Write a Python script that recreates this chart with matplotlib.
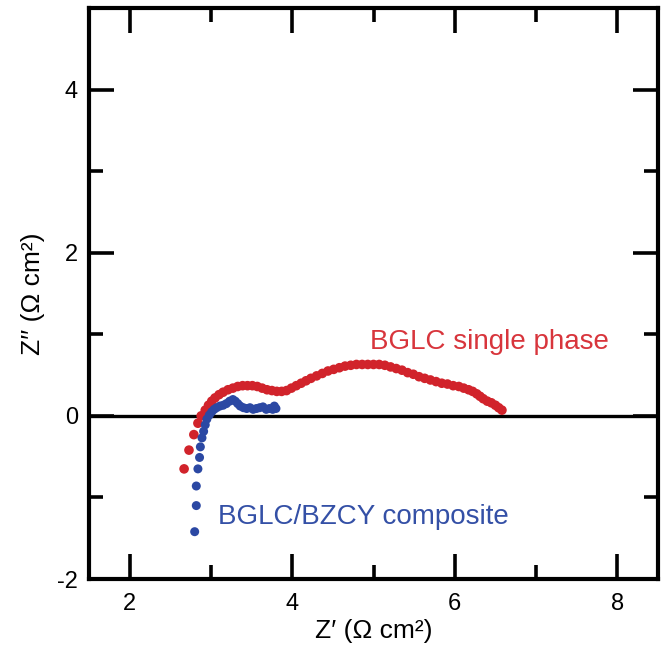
import matplotlib
matplotlib.use("Agg")
import matplotlib.pyplot as plt

plt.rcParams['font.family'] = ['Liberation Sans', 'DejaVu Sans']
plt.rcParams['axes.unicode_minus'] = False

# BGLC single phase (red)
red_x = [2.67, 2.73, 2.79, 2.84, 2.88, 2.93, 2.97, 3.01, 3.05, 3.10, 3.15, 3.21,
         3.27, 3.33, 3.39, 3.45, 3.51, 3.57, 3.63, 3.69, 3.75, 3.81, 3.87, 3.93,
         3.99, 4.05, 4.11, 4.17, 4.23, 4.30, 4.37, 4.44, 4.51, 4.58, 4.65, 4.72,
         4.79, 4.86, 4.93, 5.00, 5.07, 5.14, 5.21, 5.28, 5.35, 5.42, 5.49, 5.56,
         5.63, 5.70, 5.77, 5.84, 5.91, 5.98, 6.05, 6.11, 6.17, 6.22, 6.27, 6.31,
         6.35, 6.40, 6.45, 6.50, 6.54, 6.58]
red_y = [-0.65, -0.42, -0.23, -0.09, 0.00, 0.07, 0.13, 0.18, 0.22, 0.26, 0.29, 0.32,
         0.34, 0.36, 0.37, 0.37, 0.37, 0.36, 0.34, 0.32, 0.31, 0.30, 0.30, 0.31,
         0.34, 0.37, 0.40, 0.43, 0.46, 0.49, 0.52, 0.55, 0.57, 0.59, 0.61, 0.62,
         0.63, 0.63, 0.63, 0.63, 0.63, 0.62, 0.60, 0.58, 0.56, 0.53, 0.51, 0.48,
         0.46, 0.44, 0.42, 0.40, 0.39, 0.37, 0.36, 0.34, 0.32, 0.30, 0.27, 0.24,
         0.21, 0.18, 0.16, 0.13, 0.10, 0.07]

# BGLC/BZCY composite (blue)
blue_x = [2.80, 2.82, 2.82, 2.84, 2.86, 2.87, 2.89, 2.91, 2.93, 2.95, 2.98, 3.01,
          3.04, 3.07, 3.11, 3.15, 3.19, 3.23, 3.27, 3.30, 3.33, 3.36, 3.40, 3.44,
          3.48, 3.52, 3.56, 3.60, 3.64, 3.68, 3.72, 3.76, 3.80, 3.78]
blue_y = [-1.42, -1.10, -0.86, -0.65, -0.51, -0.38, -0.27, -0.19, -0.11, -0.04, 0.01, 0.05,
          0.08, 0.10, 0.12, 0.13, 0.15, 0.18, 0.20, 0.18, 0.15, 0.12, 0.10, 0.09,
          0.10, 0.08, 0.09, 0.10, 0.11, 0.08, 0.09, 0.08, 0.09, 0.12]

x_major = [2, 4, 6, 8]
x_minor = [3, 5, 7]
y_major = [-2, 0, 2, 4]
y_minor = [-1, 1, 3]

RED = '#d1232b'
BLUE = '#2b48a3'

fig = plt.figure(figsize=(6.61, 6.50), dpi=100)
ax = fig.add_axes([89/661, 71/650, 569/661, 571/650])

ax.axhline(0, color='black', lw=2.4, zorder=1)
ax.scatter(red_x, red_y, s=48, color=RED, edgecolors='none', zorder=2)
ax.scatter(blue_x, blue_y, s=42, color=BLUE, edgecolors='none', zorder=3)

ax.set_xlim(1.5, 8.5)
ax.set_ylim(-2, 5)
ax.set_xticks(x_major)
ax.set_xticks(x_minor, minor=True)
ax.set_yticks(y_major)
ax.set_yticks(y_minor, minor=True)
ax.tick_params(which='both', direction='in', top=True, right=True, width=2.6,
               labelsize=17, pad=8)
ax.tick_params(which='major', length=18)
ax.tick_params(which='minor', length=10)
ax.tick_params(axis='x', pad=10)
for sp in ax.spines.values():
    sp.set_linewidth(3.0)

ax.set_xlabel('Z\u2032 (\u03a9 cm\u00b2)', fontsize=19, labelpad=3)
ax.set_ylabel('Z\u2032\u2032 (\u03a9 cm\u00b2)', fontsize=19, labelpad=9)

ax.text(4.96, 0.91, 'BGLC single phase', color='#d8353c', fontsize=20, va='center', ha='left')
ax.text(3.09, -1.24, 'BGLC/BZCY composite', color='#3450a6', fontsize=20, va='center', ha='left')

fig.savefig('out.png', dpi=100)
